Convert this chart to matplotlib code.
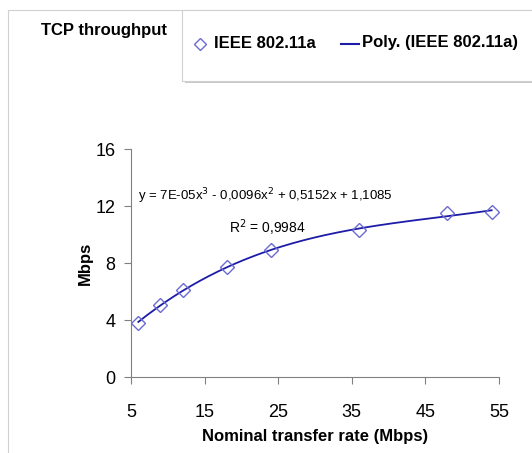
import numpy as np
import matplotlib.pyplot as plt
from matplotlib.patches import Rectangle
from matplotlib.lines import Line2D
from matplotlib import font_manager

names = {f.name for f in font_manager.fontManager.ttflist}
fam = 'Liberation Sans Narrow' if 'Liberation Sans Narrow' in names else 'Liberation Sans'
plt.rcParams['font.family'] = [fam, 'DejaVu Sans']

# data
rate = [6, 9, 12, 18, 24, 36, 48, 54]
tput = [3.78, 5.1, 6.15, 7.7, 8.9, 10.3, 11.5, 11.6]
xticks = [5, 15, 25, 35, 45, 55]
yticks = [0, 4, 8, 12, 16]

line_col = '#1c1ca8'
mark_col = '#6b6bd0'

fig = plt.figure(figsize=(5.32, 4.53), dpi=100)

# outer chart frame (partly cut off in the original)
fig.patches.append(Rectangle((8 / 532, -0.1), 1.2, 1 - 10 / 453 + 0.1,
                             transform=fig.transFigure, fill=False,
                             edgecolor='#d0d0d0', linewidth=0.8))
fig.text(104 / 532, 1 - 31 / 453, 'TCP throughput', ha='center', va='center',
         fontsize=12, fontweight='bold')

# legend box with shadow
fig.patches.append(Rectangle((185 / 532, 1 - 83 / 453), 1.0, 73 / 453,
                             transform=fig.transFigure, facecolor='#c8c8c8',
                             edgecolor='none'))
fig.patches.append(Rectangle((182 / 532, 1 - 81 / 453), 1.0, 71 / 453,
                             transform=fig.transFigure, facecolor='white',
                             edgecolor='#d0d0d0', linewidth=0.8))
fig.lines.append(Line2D([200 / 532], [1 - 44 / 453], transform=fig.transFigure,
                        marker='D', markersize=6, markerfacecolor='none',
                        markeredgecolor=mark_col, markeredgewidth=1, linestyle='none'))
fig.text(214 / 532, 1 - 43 / 453, 'IEEE 802.11a', ha='left', va='center',
         fontsize=12, fontweight='bold')
fig.lines.append(Line2D([341 / 532, 359 / 532], [1 - 44 / 453] * 2,
                        transform=fig.transFigure, color=line_col, linewidth=1.5))
fig.text(362 / 532, 1 - 43 / 453, 'Poly. (IEEE 802.11a)', ha='left', va='center',
         fontsize=12, fontweight='bold')

ax = fig.add_axes([131 / 532, 1 - 377.3 / 453, 368 / 532, 228.3 / 453])

coef = np.polyfit(rate, tput, 3)
xs = np.linspace(min(rate), max(rate), 200)
ax.plot(xs, np.polyval(coef, xs), color=line_col, linewidth=1.3, zorder=2)
ax.plot(rate, tput, linestyle='none', marker='D', markersize=7,
        markerfacecolor='none', markeredgecolor=mark_col, markeredgewidth=1, zorder=3)

ax.text(6.0, 12.7, r'y = 7E-05x$^3$ - 0,0096x$^2$ + 0,5152x + 1,1085',
        fontsize=9.5, va='center', ha='left')
ax.text(18.3, 10.5, r'R$^2$ = 0,9984', fontsize=10, va='center', ha='left')

ax.set_xlim(5, 55)
ax.set_ylim(0, 16)
ax.set_xticks(xticks)
ax.set_yticks(yticks)
ax.tick_params(labelsize=13, length=5, width=0.8, color='#808080', pad=6)
ax.tick_params(axis='x', pad=14)
for s in ['top', 'right']:
    ax.spines[s].set_visible(False)
for s in ['left', 'bottom']:
    ax.spines[s].set_color('#808080')
    ax.spines[s].set_linewidth(0.8)

ax.set_xlabel('Nominal transfer rate (Mbps)', fontsize=12, fontweight='bold', labelpad=6)
ax.set_ylabel('Mbps', fontsize=12, fontweight='bold', labelpad=2)

fig.savefig('out.png', dpi=100)
